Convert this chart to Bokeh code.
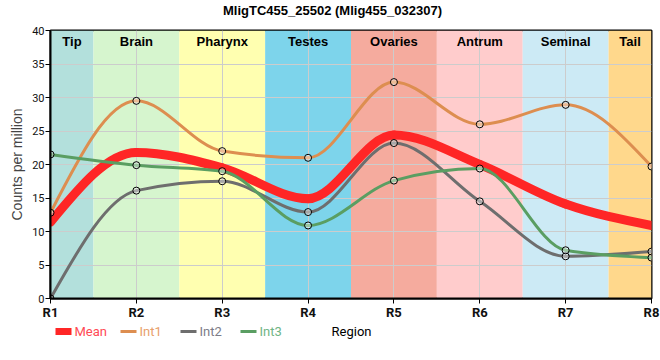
from bokeh.plotting import figure
from bokeh.layouts import column
from bokeh.models import Range1d, FixedTicker
from bokeh.core.properties import value
from bokeh.embed import file_html
from bokeh.resources import INLINE

# ---------------- data ----------------
title_text = "MligTC455_25502 (Mlig455_032307)"
regions = ["R1", "R2", "R3", "R4", "R5", "R6", "R7", "R8"]
positions = [1, 2, 3, 4, 5, 6, 7, 8]
mean = [11.4, 21.8, 19.5, 14.9, 24.4, 20.0, 14.1, 10.9]
int1 = [12.8, 29.5, 22.0, 21.0, 32.3, 26.0, 28.9, 19.7]
int2 = [0.0, 16.1, 17.5, 12.9, 23.2, 14.5, 6.3, 7.0]
int3 = [21.5, 19.9, 19.0, 10.9, 17.6, 19.4, 7.2, 6.1]
tissues = ["Tip", "Brain", "Pharynx", "Testes", "Ovaries", "Antrum", "Seminal", "Tail"]
tissue_colors = ["#b3e0dc", "#d6f5ce", "#ffffb0", "#7dd4eb",
                 "#f5ab9e", "#ffcccc", "#cceaf5", "#ffd88c"]
y_ticks = [0, 5, 10, 15, 20, 25, 30, 35, 40]
x_label = "Region"
y_label = "Counts per million"

series_names = ["Mean", "Int1", "Int2", "Int3"]
series_colors = ["#ff2626", "#dd8e50", "#6e6e6e", "#5a9e62"]
legend_text_colors = ["#ff4a55", "#e8a06a", "#7c7c88", "#6fb585"]


def monotone_beziers(xs, ys):
    """Control points of a monotone cubic (d3 curveMonotoneX style)."""
    n = len(xs)
    def sgn(v):
        return -1 if v < 0 else 1
    t = [0.0] * n
    for i in range(1, n - 1):
        h0 = xs[i] - xs[i - 1]
        h1 = xs[i + 1] - xs[i]
        s0 = (ys[i] - ys[i - 1]) / h0
        s1 = (ys[i + 1] - ys[i]) / h1
        p_ = (s0 * h1 + s1 * h0) / (h0 + h1)
        t[i] = (sgn(s0) + sgn(s1)) * min(abs(s0), abs(s1), 0.5 * abs(p_))
    h = xs[1] - xs[0]
    t[0] = (3 * (ys[1] - ys[0]) / h - t[1]) / 2
    h = xs[-1] - xs[-2]
    t[-1] = (3 * (ys[-1] - ys[-2]) / h - t[-2]) / 2
    out = dict(x0=[], y0=[], x1=[], y1=[], cx0=[], cy0=[], cx1=[], cy1=[])
    for i in range(n - 1):
        dx = (xs[i + 1] - xs[i]) / 3
        out["x0"].append(xs[i]); out["y0"].append(ys[i])
        out["x1"].append(xs[i + 1]); out["y1"].append(ys[i + 1])
        out["cx0"].append(xs[i] + dx); out["cy0"].append(ys[i] + dx * t[i])
        out["cx1"].append(xs[i + 1] - dx); out["cy1"].append(ys[i + 1] - dx * t[i + 1])
    return out


W = 660
BL, BR = 50, 9


def strip(height):
    """A bare figure whose data coordinates are pixels (x from canvas left, y from top)."""
    f = figure(width=W, height=height, output_backend="svg", toolbar_location=None,
               x_range=Range1d(BL, W - BR), y_range=Range1d(height, 0),
               x_axis_location=None, y_axis_location=None,
               min_border_left=BL, min_border_right=BR, min_border_top=0, min_border_bottom=0)
    f.grid.visible = False
    f.outline_line_color = None
    f.background_fill_color = "white"
    return f


# ---------------- title strip ----------------
TH = 22
t = strip(TH)
t.text(x=[332], y=[10], text=[title_text], text_color="black",
       text_font=value("Liberation Sans"), text_font_style="bold", text_font_size="13px",
       text_align="center", text_baseline="middle")

# ---------------- main chart ----------------
p = figure(width=W, height=300, output_backend="svg", toolbar_location=None,
           x_range=Range1d(positions[0], positions[-1]), y_range=Range1d(0, 40),
           min_border_left=BL, min_border_right=BR, min_border_top=8, min_border_bottom=22)

p.outline_line_color = "black"
p.outline_line_width = 2
p.background_fill_color = "white"

# tissue bands
lefts = [max(x - 0.5, positions[0]) for x in positions]
rights = [min(x + 0.5, positions[-1]) for x in positions]
p.quad(left=lefts, right=rights, bottom=0, top=40, fill_color=tissue_colors,
       line_color=None, level="image")
centers = [(a + b) / 2 for a, b in zip(lefts, rights)]
p.text(x=centers, y=[40] * len(centers), text=tissues, text_font=value("Liberation Sans"),
       text_font_style="bold", text_font_size="13px", text_align="center",
       text_baseline="top", y_offset=3, text_color="black")

# curves
all_series = [mean, int1, int2, int3]
widths = [9, 3, 3, 3]
for vals, col, w in zip(all_series, series_colors, widths):
    bz = monotone_beziers(positions, vals)
    p.bezier(line_color=col, line_width=w, line_cap="round", **bz)
for vals in all_series[1:]:
    p.scatter(x=positions, y=vals, size=7, marker="circle", fill_color="white",
              fill_alpha=0.4, line_color="black", line_width=1)

# axes
p.xaxis.ticker = FixedTicker(ticks=positions)
p.xaxis.major_label_overrides = {pos: r for pos, r in zip(positions, regions)}
p.yaxis.ticker = FixedTicker(ticks=y_ticks)
p.xgrid.ticker = FixedTicker(ticks=positions)
p.ygrid.ticker = FixedTicker(ticks=y_ticks)
for g in (p.xgrid, p.ygrid):
    g.grid_line_color = "#cccccc"
    g.grid_line_width = 1
for ax in (p.xaxis, p.yaxis):
    ax.axis_line_color = "black"
    ax.axis_line_width = 2
    ax.major_tick_line_color = "black"
    ax.major_tick_line_width = 1
    ax.major_tick_out = 5
    ax.major_tick_in = 0
    ax.minor_tick_out = 0
    ax.minor_tick_in = 0
    ax.major_label_text_color = "#111111"
p.xaxis.major_label_text_font = "Roboto"
p.xaxis.major_label_text_font_style = "bold"
p.xaxis.major_label_text_font_size = "13px"
p.xaxis.major_label_standoff = 1
p.yaxis.major_label_text_font = "Roboto"
p.yaxis.major_label_text_font_size = "11px"
p.yaxis.major_label_standoff = 1
p.yaxis.axis_label = y_label
p.yaxis.axis_label_text_font = "Liberation Sans"
p.yaxis.axis_label_text_font_style = "normal"
p.yaxis.axis_label_text_font_size = "14px"
p.yaxis.axis_label_standoff = 4

# ---------------- legend strip + axis title ----------------
LH = 22
q = strip(LH)
sw_x = [55, 120, 180, 240]
sw_w = 16
mid = 9
q.quad(left=[sw_x[0]], right=[sw_x[0] + sw_w], top=[mid - 3.5], bottom=[mid + 3.5],
       fill_color=series_colors[0], line_color=None)
q.segment(x0=sw_x[1:], x1=[x + sw_w for x in sw_x[1:]], y0=[mid] * 3, y1=[mid] * 3,
          line_color=series_colors[1:], line_width=3)
q.text(x=[x + sw_w + 3 for x in sw_x], y=[mid] * 4, text=series_names,
       text_color=legend_text_colors, text_font=value("Roboto"), text_font_size="13px",
       text_align="left", text_baseline="middle")
q.text(x=[351], y=[mid], text=[x_label], text_color="black", text_font=value("Roboto"),
       text_font_size="13px", text_align="center", text_baseline="middle")

layout = column(t, p, q, spacing=0)
open("out.html", "w").write(file_html(layout, INLINE))
